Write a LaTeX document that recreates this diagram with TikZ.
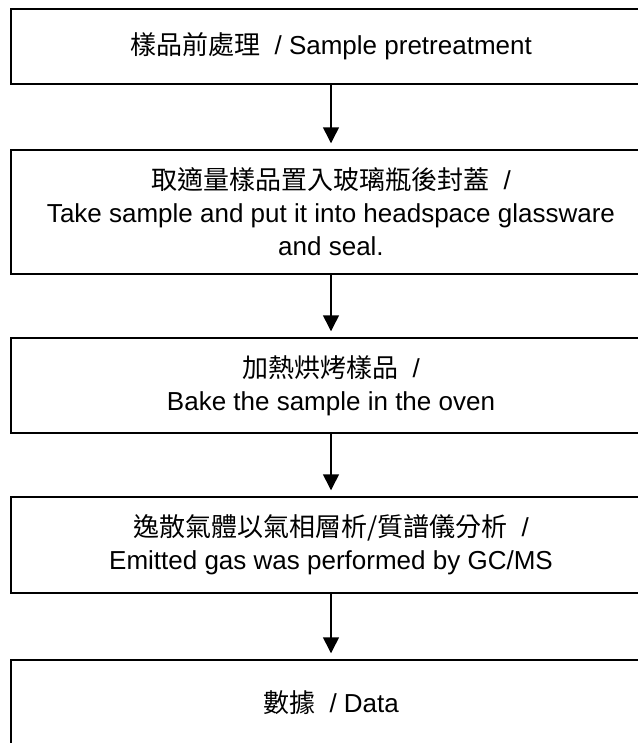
\documentclass[tikz,border=0pt]{standalone}
\usepackage{fontspec}
\setmainfont{Liberation Sans}
\newfontfamily\cjk{Noto Sans CJK TC}
\usetikzlibrary{arrows.meta}

\begin{document}
\begin{tikzpicture}
[x=0.75pt,y=-0.75pt,
 stage/.style={draw,line width=1.1pt,minimum width=480pt,inner sep=0pt,align=center},
 flow/.style={-{Triangle[width=12pt,length=12pt]},line width=1.1pt,shorten >=4.5pt}]
\fontsize{19.5}{24.75}\selectfont
\useasboundingbox (0,0) rectangle (638,743);
\node[stage,minimum height=56.25pt] (pretreat) at (331,46.5)
  {{\cjk 樣品前處理}\ \ / Sample pretreatment};
\node[stage,minimum height=93pt] (seal) at (331,212)
  {{\cjk 取適量樣品置入玻璃瓶後封蓋}\ \ /\\
   Take sample and put it into headspace glassware\\
   and seal.};
\node[stage,minimum height=71.25pt] (bake) at (331,385.5)
  {{\cjk 加熱烘烤樣品}\ \ /\\
   Bake the sample in the oven};
\node[stage,minimum height=72pt] (gcms) at (331,545)
  {{\cjk 逸散氣體以氣相層析/質譜儀分析}\ \ /\\
   Emitted gas was performed by GC/MS};
\node[stage,minimum height=64.5pt] (data) at (331,703)
  {{\cjk 數據}\ \ / Data};
\draw[flow] (pretreat) -- (seal);
\draw[flow] (seal) -- (bake);
\draw[flow] (bake) -- (gcms);
\draw[flow] (gcms) -- (data);
\end{tikzpicture}
\end{document}
